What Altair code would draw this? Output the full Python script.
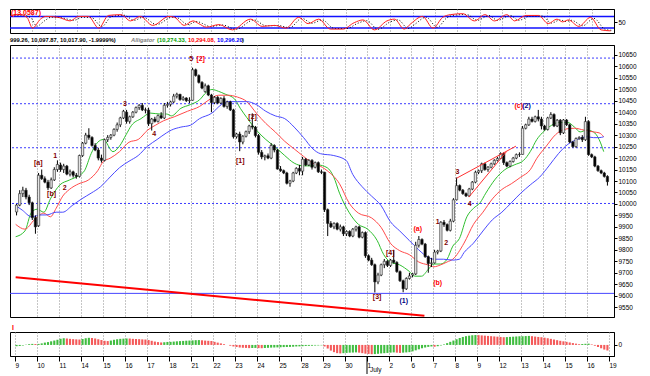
import json
import altair as alt
import pandas as pd

# ---------------- data ----------------
DAY_LABELS = ["9", "10", "11", "14", "15", "16", "17", "18", "21", "22", "23", "24", "25",
              "28", "29", "30", "1", "2", "6", "7", "8", "9", "12", "13", "14", "15", "16", "19"]

# hourly candles, 7 per trading day (June 9 .. July 16)
OPEN = [
    [9965, 9995, 10045, 10060, 10030, 10005, 9940],
    [9905, 10125, 10110, 10095, 10070, 10105, 10150],
    [10170, 10150, 10165, 10130, 10140, 10125, 10120],
    [10211, 10265, 10300, 10290, 10255, 10235, 10200],
    [10190, 10280, 10290, 10300, 10325, 10345, 10375],
    [10400, 10360, 10380, 10400, 10420, 10430, 10410],
    [10409, 10350, 10370, 10360, 10385, 10375, 10430],
    [10434, 10445, 10470, 10478, 10455, 10462, 10450],
    [10452, 10585, 10560, 10530, 10490, 10515, 10475],
    [10442, 10465, 10440, 10460, 10425, 10445, 10410],
    [10293, 10305, 10270, 10295, 10315, 10340, 10335],
    [10298, 10225, 10205, 10210, 10200, 10255, 10235],
    [10152, 10145, 10135, 10090, 10100, 10135, 10155],
    [10143, 10195, 10170, 10190, 10160, 10180, 10140],
    [10138, 9975, 9915, 9900, 9915, 9890, 9900],
    [9870, 9880, 9860, 9890, 9900, 9855, 9875],
    [9774, 9755, 9735, 9660, 9690, 9735, 9750],
    [9732, 9755, 9745, 9705, 9665, 9630, 9675],
    [9690, 9695, 9820, 9845, 9825, 9770, 9740],
    [9743, 9790, 9795, 9920, 9910, 9885, 9925],
    [10018, 10080, 10060, 10045, 10035, 10065, 10095],
    [10138, 10145, 10175, 10150, 10160, 10175, 10190],
    [10198, 10220, 10180, 10165, 10185, 10200, 10215],
    [10216, 10330, 10345, 10370, 10360, 10380, 10370],
    [10340, 10325, 10375, 10390, 10340, 10365, 10310],
    [10366, 10345, 10270, 10250, 10285, 10290, 10280],
    [10359, 10215, 10205, 10165, 10145, 10135, 10120],
]
HIGH = [
    [10000, 10060, 10075, 10070, 10040, 10010, 9950],
    [10135, 10150, 10120, 10105, 10115, 10160, 10190],
    [10180, 10175, 10170, 10150, 10145, 10135, 10215],
    [10270, 10310, 10330, 10295, 10265, 10245, 10215],
    [10285, 10300, 10305, 10330, 10355, 10380, 10410],
    [10410, 10385, 10405, 10425, 10435, 10440, 10420],
    [10420, 10375, 10380, 10390, 10400, 10440, 10445],
    [10450, 10480, 10485, 10480, 10470, 10465, 10465],
    [10594, 10590, 10565, 10535, 10525, 10520, 10480],
    [10470, 10470, 10465, 10470, 10450, 10450, 10415],
    [10310, 10315, 10300, 10320, 10345, 10395, 10340],
    [10305, 10235, 10215, 10220, 10265, 10260, 10240],
    [10165, 10150, 10140, 10105, 10140, 10160, 10170],
    [10205, 10200, 10195, 10195, 10185, 10185, 10150],
    [10140, 9980, 9925, 9920, 9920, 9910, 9905],
    [9885, 9885, 9895, 9905, 9905, 9880, 9880],
    [9780, 9765, 9740, 9700, 9740, 9760, 9755],
    [9760, 9800, 9750, 9710, 9670, 9680, 9700],
    [9700, 9835, 9860, 9850, 9830, 9775, 9765],
    [9800, 9800, 9925, 9930, 9915, 9935, 10025],
    [10115, 10085, 10065, 10050, 10070, 10100, 10145],
    [10150, 10180, 10180, 10165, 10180, 10195, 10205],
    [10225, 10225, 10185, 10190, 10205, 10220, 10225],
    [10340, 10350, 10380, 10380, 10385, 10410, 10380],
    [10345, 10380, 10400, 10395, 10370, 10370, 10370],
    [10370, 10350, 10275, 10290, 10295, 10300, 10380],
    [10365, 10220, 10210, 10170, 10150, 10140, 10125],
]
LOW = [
    [9950, 9990, 10030, 10020, 9995, 9930, 9870],
    [9900, 10105, 10090, 10060, 10065, 10100, 10140],
    [10140, 10135, 10125, 10120, 10115, 10110, 10115],
    [10205, 10260, 10280, 10250, 10230, 10190, 10180],
    [10185, 10270, 10280, 10295, 10315, 10335, 10370],
    [10350, 10350, 10375, 10395, 10410, 10405, 10395],
    [10340, 10320, 10355, 10355, 10370, 10370, 10420],
    [10425, 10440, 10460, 10450, 10450, 10445, 10440],
    [10450, 10555, 10525, 10500, 10485, 10470, 10400],
    [10435, 10435, 10435, 10420, 10415, 10405, 10285],
    [10285, 10230, 10260, 10290, 10305, 10325, 10290],
    [10215, 10195, 10190, 10195, 10195, 10225, 10150],
    [10140, 10130, 10085, 10075, 10095, 10130, 10125],
    [10125, 10165, 10165, 10150, 10155, 10135, 10130],
    [9965, 9860, 9895, 9890, 9885, 9880, 9860],
    [9860, 9855, 9855, 9880, 9850, 9850, 9765],
    [9750, 9730, 9614, 9650, 9685, 9720, 9725],
    [9725, 9740, 9700, 9660, 9615, 9625, 9670],
    [9680, 9690, 9810, 9820, 9765, 9700, 9725],
    [9740, 9780, 9790, 9900, 9880, 9880, 9920],
    [10015, 10055, 10040, 10030, 10030, 10060, 10090],
    [10130, 10135, 10145, 10140, 10155, 10170, 10185],
    [10195, 10170, 10160, 10160, 10180, 10195, 10205],
    [10215, 10325, 10340, 10355, 10355, 10360, 10325],
    [10320, 10320, 10370, 10335, 10335, 10300, 10305],
    [10340, 10265, 10245, 10245, 10280, 10270, 10275],
    [10210, 10200, 10160, 10140, 10130, 10115, 10080],
]
CLOSE = [
    [9995, 10045, 10060, 10030, 10005, 9940, 9900],
    [10125, 10110, 10095, 10070, 10105, 10150, 10172],
    [10150, 10165, 10130, 10140, 10125, 10120, 10211],
    [10265, 10300, 10290, 10255, 10235, 10200, 10190],
    [10280, 10290, 10300, 10325, 10345, 10375, 10404],
    [10360, 10380, 10400, 10420, 10430, 10410, 10409],
    [10350, 10370, 10360, 10385, 10375, 10430, 10434],
    [10445, 10470, 10478, 10455, 10462, 10450, 10452],
    [10585, 10560, 10530, 10505, 10515, 10475, 10442],
    [10465, 10440, 10460, 10425, 10445, 10410, 10293],
    [10305, 10270, 10295, 10315, 10340, 10335, 10298],
    [10225, 10205, 10210, 10200, 10255, 10235, 10152],
    [10145, 10135, 10090, 10100, 10135, 10155, 10143],
    [10195, 10170, 10190, 10160, 10180, 10140, 10138],
    [9975, 9915, 9900, 9915, 9890, 9900, 9870],
    [9880, 9860, 9890, 9900, 9855, 9875, 9774],
    [9755, 9735, 9660, 9690, 9735, 9750, 9732],
    [9755, 9745, 9705, 9665, 9630, 9675, 9686],
    [9695, 9820, 9845, 9825, 9770, 9740, 9743],
    [9790, 9795, 9920, 9910, 9885, 9925, 10018],
    [10080, 10060, 10045, 10035, 10065, 10095, 10138],
    [10145, 10175, 10150, 10160, 10175, 10190, 10198],
    [10220, 10180, 10165, 10185, 10200, 10215, 10216],
    [10330, 10345, 10370, 10360, 10380, 10370, 10340],
    [10325, 10375, 10390, 10340, 10365, 10310, 10366],
    [10345, 10270, 10250, 10285, 10290, 10280, 10359],
    [10215, 10205, 10165, 10145, 10135, 10120, 10097],
]
# lower histogram oscillator, one value per candle
HIST = [
    [-25, -20, -10, 5, 15, 20, 18],
    [20, 30, 45, 55, 70, 85, 100],
    [120, 130, 125, 118, 112, 108, 105],
    [115, 130, 138, 135, 125, 110, 95],
    [80, 75, 85, 100, 110, 118, 122],
    [125, 124, 118, 115, 112, 108, 105],
    [95, 80, 65, 55, 48, 52, 58],
    [60, 65, 70, 74, 78, 82, 85],
    [88, 92, 94, 90, 84, 80, 76],
    [60, 45, 30, 15, 0, -15, -30],
    [-40, -50, -55, -58, -62, -60, -58],
    [-62, -64, -60, -56, -52, -50, -48],
    [-45, -42, -40, -38, -35, -30, -28],
    [-25, -20, -18, -15, -12, -10, -8],
    [-30, -70, -110, -140, -160, -165, -160],
    [-155, -150, -148, -145, -150, -160, -170],
    [-175, -180, -178, -172, -165, -160, -155],
    [-150, -145, -150, -155, -150, -145, -140],
    [-125, -105, -85, -65, -50, -38, -30],
    [-35, -25, -10, 10, 35, 60, 85],
    [110, 135, 155, 170, 180, 188, 192],
    [190, 185, 180, 175, 170, 165, 160],
    [155, 150, 152, 156, 160, 164, 168],
    [170, 172, 175, 170, 162, 155, 150],
    [140, 130, 118, 105, 92, 80, 70],
    [60, 48, 36, 25, 15, 18, 22],
    [25, 10, -15, -40, -65, -90, -108],
]

# Alligator lines (time in trading days, price)
GREEN_T = [0.03, 0.45, 0.75, 1.01, 1.31, 1.61, 2.04, 2.47, 2.90, 3.16, 3.46, 3.76, 4.02, 4.45, 4.75, 5.05,
           5.30, 5.73, 6.16, 6.59, 6.89, 7.11, 7.54, 7.97, 8.39, 8.70, 8.95, 9.25, 9.55, 9.98, 10.24, 10.54,
           10.97, 11.40, 11.83, 12.26, 12.69, 13.12, 13.54, 13.76, 14.19, 14.49, 14.75, 15.18, 15.61, 16.03,
           16.46, 16.76, 17.06, 17.49, 17.92, 18.18, 18.48, 18.78, 19.04, 19.34, 19.64, 19.90, 20.20, 20.54,
           20.84, 21.14, 21.40, 21.83, 22.26, 22.69, 23.12, 23.42, 23.72, 23.97, 24.27, 24.70, 25.13, 25.43,
           25.69, 25.99, 26.29, 26.55, 26.76]
GREEN_P = [9857, 9882, 9964, 9977, 9964, 10022, 10083, 10104, 10124, 10145, 10219, 10269, 10281, 10228, 10252,
           10302, 10343, 10372, 10396, 10392, 10392, 10384, 10417, 10433, 10454, 10487, 10499, 10491, 10479,
           10458, 10417, 10376, 10322, 10281, 10248, 10211, 10178, 10166, 10166, 10170, 10158, 10117, 10047,
           9964, 9911, 9890, 9841, 9779, 9747, 9734, 9706, 9685, 9685, 9714, 9738, 9738, 9759, 9816, 9849, 9944,
           9981, 10005, 10047, 10108, 10149, 10170, 10190, 10228, 10281, 10310, 10335, 10355, 10355, 10335,
           10314, 10322, 10314, 10281, 10228]
RED_T = [0.03, 0.45, 0.88, 1.31, 1.61, 1.87, 2.17, 2.47, 2.90, 3.33, 3.76, 4.02, 4.32, 4.75, 5.18, 5.60, 6.03,
         6.38, 6.76, 7.24, 7.84, 8.39, 8.82, 9.25, 9.68, 10.11, 10.54, 10.97, 11.40, 11.83, 12.26, 12.69, 13.12,
         13.54, 13.76, 14.19, 14.75, 15.18, 15.61, 16.21, 16.64, 17.06, 17.49, 17.92, 18.35, 18.78, 19.04, 19.34,
         19.64, 19.90, 20.41, 20.84, 21.27, 21.70, 22.13, 22.56, 22.99, 23.42, 23.72, 24.15, 24.57, 25.00, 25.43,
         25.86, 26.29, 26.55, 26.76]
RED_P = [9911, 9890, 9931, 9960, 9944, 9981, 10034, 10063, 10088, 10104, 10145, 10186, 10199, 10228, 10269,
         10281, 10322, 10343, 10363, 10380, 10404, 10425, 10454, 10474, 10474, 10466, 10446, 10396, 10351, 10314,
         10273, 10240, 10207, 10178, 10170, 10145, 10088, 10005, 9960, 9939, 9898, 9829, 9796, 9779, 9747, 9734,
         9726, 9734, 9747, 9759, 9829, 9911, 9964, 10022, 10063, 10088, 10117, 10149, 10199, 10252, 10302, 10326,
         10330, 10322, 10314, 10310, 10293]
BLUE_T = [0.03, 0.33, 0.75, 1.18, 1.44, 1.87, 2.17, 2.60, 3.03, 3.46, 3.89, 4.32, 4.75, 5.18, 5.60, 6.03, 6.46,
          6.89, 7.11, 7.54, 7.97, 8.39, 8.95, 9.38, 9.68, 10.11, 10.54, 10.97, 11.40, 11.83, 12.26, 12.69, 13.12,
          13.54, 13.89, 14.49, 15.05, 15.35, 15.78, 16.21, 16.64, 17.06, 17.49, 17.92, 18.35, 18.78, 19.04, 19.47,
          19.90, 20.20, 20.41, 20.84, 21.27, 21.70, 22.13, 22.56, 22.99, 23.42, 23.85, 24.27, 24.70, 25.13, 25.56,
          25.99, 26.29, 26.55, 26.76]
BLUE_P = [9993, 9973, 9944, 9952, 9952, 9964, 9964, 9993, 10022, 10047, 10075, 10117, 10158, 10186, 10211,
          10252, 10281, 10310, 10322, 10335, 10343, 10372, 10396, 10433, 10446, 10446, 10446, 10433, 10404, 10384,
          10372, 10335, 10289, 10240, 10219, 10211, 10190, 10129, 10075, 10034, 9993, 9923, 9882, 9841, 9800,
          9767, 9759, 9759, 9755, 9759, 9788, 9829, 9882, 9931, 9964, 10005, 10047, 10083, 10117, 10166, 10219,
          10260, 10281, 10293, 10289, 10289, 10293]

# Oscillator panel (top)
OSC_T = [0.03, 0.45, 0.76, 1.01, 1.36, 1.61, 2.17, 2.69, 3.07, 3.5, 3.97, 4.4, 4.96, 5.39, 5.82, 6.38, 7.11,
         7.36, 7.79, 8.18, 8.44, 8.78, 9.34, 9.94, 10.75, 11.27, 11.83, 12.34, 12.9, 13.33, 13.8, 14.32, 14.88,
         15.39, 15.78, 16.29, 16.85, 17.19, 17.62, 17.92, 18.44, 18.91, 19.34, 19.68, 20.24, 20.76, 21.23, 21.66,
         22.21, 22.56, 23.07, 23.63, 24.06, 24.45, 24.7, 24.96, 25.43, 25.95, 26.42, 26.85]
OSC_V = [85, 89, 75, 20, 66, 80, 75, 57, 80, 80, 20, 85, 89, 57, 80, 34, 80, 75, 34, 57, 43, 25, 38, 11, 66,
         29, 34, 20, 75, 43, 66, 15, 15, 48, 62, 11, 57, 66, 15, 43, 80, 20, 75, 89, 94, 57, 89, 57, 89, 57, 85,
         85, 43, 66, 52, 62, 29, 75, 11, 6]
SIG_T = [0.2, 0.6, 0.95, 1.2, 1.55, 1.85, 2.35, 2.85, 3.25, 3.65, 4.1, 4.55, 5.1, 5.55, 5.95, 6.55, 7.25, 7.5,
         7.95, 8.35, 8.6, 8.95, 9.5, 10.1, 10.9, 11.45, 12.0, 12.5, 13.05, 13.5, 13.95, 14.5, 15.05, 15.55,
         15.95, 16.45, 17.0, 17.35, 17.8, 18.1, 18.6, 19.1, 19.5, 19.85, 20.4, 20.9, 21.4, 21.8, 22.35, 22.75,
         23.25, 23.8, 24.2, 24.6, 24.85, 25.1, 25.6, 26.1, 26.6, 26.95]
SIG_V = [84, 86, 70, 30, 58, 76, 72, 60, 76, 74, 28, 80, 86, 60, 76, 38, 76, 72, 38, 54, 44, 28, 36, 14, 62,
         32, 33, 22, 70, 45, 62, 18, 18, 45, 58, 14, 52, 62, 18, 40, 76, 24, 70, 86, 90, 60, 85, 60, 85, 60, 82,
         82, 46, 62, 54, 60, 32, 70, 14, 8]
OSC_BANDS = [20, 80]

# Horizontal levels and trend lines
FIB_LEVELS = [10636, 10437, 10245, 10002]
SUPPORT = [9610]
TREND_GROUP = ["long", "long", "upper", "upper", "lower", "lower"]
TREND_T = [0.03, 18.61, 20.07, 22.77, 20.63, 22.34]
TREND_P = [9680, 9512, 10112, 10252, 10030, 10228]

# Wave labels
LBL_TXT = ["[a]", "1", "[b]", "2", "3", "4", "5", "[2]", "[2]", "[1]", "[3]", "[4]", "(1)", "(a)", "(b)",
           "1", "2", "3", "4", "(c)", "(2)"]
LBL_T = [1.06, 1.83, 1.66, 2.26, 5.0, 6.33, 8.01, 8.44, 10.8, 10.24, 16.46, 17.06, 17.67, 18.31, 19.21,
         19.21, 19.6, 20.11, 20.67, 22.9, 23.25]
LBL_P = [10178, 10211, 10042, 10071, 10437, 10306, 10631, 10631, 10380, 10186, 9594, 9788, 9578, 9890, 9655,
         9923, 9829, 10141, 10001, 10429, 10429]
LBL_COL = ["#800000"] * 7 + ["#ff0000"] + ["#800000"] * 4 + ["#000080", "#ff0000", "#ff0000"] + \
          ["#800000"] * 4 + ["#ff0000", "#000080"]

# ---------------- build tables ----------------
rows = []
for d in range(len(OPEN)):
    for k in range(7):
        rows.append({"t": d + (k + 0.5) / 7, "o": OPEN[d][k], "h": HIGH[d][k],
                     "l": LOW[d][k], "c": CLOSE[d][k], "hv": HIST[d][k]})
bars = pd.DataFrame(rows)
bars["z"] = 0
bars["hcol"] = ["#40bd40" if i == 0 or v >= bars["hv"].iloc[i - 1] else "#f45a5a"
                for i, v in enumerate(bars["hv"])]

allig = pd.concat([
    pd.DataFrame({"t": GREEN_T, "p": GREEN_P, "s": "lips"}),
    pd.DataFrame({"t": RED_T, "p": RED_P, "s": "teeth"}),
    pd.DataFrame({"t": BLUE_T, "p": BLUE_P, "s": "jaw"}),
])
trend = pd.DataFrame({"g": TREND_GROUP, "t": TREND_T, "p": TREND_P})
labels = pd.DataFrame({"t": LBL_T, "p": LBL_P, "txt": LBL_TXT, "col": LBL_COL})
osc = pd.DataFrame({"t": OSC_T, "v": OSC_V})
sig = pd.DataFrame({"t": SIG_T, "v": SIG_V})

FONT = "Liberation Sans"
W = 604
H_OSC, H_MAIN, H_HIST = 24, 272, 24
XS = alt.Scale(domain=[0, 27], nice=False, zero=False)
YS_MAIN = alt.Scale(domain=[9507, 10693], nice=False, zero=False)
YS_OSC = alt.Scale(domain=[-5, 118], nice=False, zero=False)
YS_HIST = alt.Scale(domain=[-215, 251], nice=False, zero=False)

grid_x = alt.Axis(values=list(range(1, 27)), grid=True, gridDash=[1, 2], gridColor="#8c8c8c",
                  labels=False, ticks=False, domain=False, title=None)


def XX(field="t"):
    return alt.X(f"{field}:Q", scale=XS, axis=grid_x)


main_yaxis = alt.Axis(orient="right", values=list(range(9550, 10651, 50)), format="d", labelFontSize=6.5,
                      labelFont=FONT, tickSize=3, grid=False, title=None, labelPadding=1)


def YM(field):
    return alt.Y(f"{field}:Q", scale=YS_MAIN, axis=main_yaxis)


fib = alt.Chart(pd.DataFrame({"p": FIB_LEVELS})).mark_rule(
    color="#3c3cff", strokeDash=[2, 2], strokeWidth=1).encode(y=YM("p"))
sup = alt.Chart(pd.DataFrame({"p": SUPPORT})).mark_rule(color="#4646ff", strokeWidth=1).encode(y=YM("p"))

lines = alt.Chart(allig).mark_line(strokeWidth=1, interpolate="monotone").encode(
    x=XX(), y=YM("p"), detail="s:N",
    color=alt.Color("s:N", scale=alt.Scale(domain=["lips", "teeth", "jaw"],
                                           range=["#2fbf2f", "#ff4a4a", "#4a4aff"]), legend=None))

wick = alt.Chart(bars).mark_rule(color="black", strokeWidth=1).encode(x=XX(), y=YM("l"), y2="h:Q")
body = alt.Chart(bars).mark_bar(size=2.3, stroke="#202020", strokeWidth=0.6).encode(
    x=XX(), y=YM("o"), y2="c:Q",
    fill=alt.condition("datum.c >= datum.o", alt.value("#e4e4e4"), alt.value("black")))

trend_long = alt.Chart(trend[trend.g == "long"]).mark_line(color="#ff0000", strokeWidth=2).encode(
    x=XX(), y=YM("p"))
trend_ch = alt.Chart(trend[trend.g != "long"]).mark_line(color="#ff3030", strokeWidth=1).encode(
    x=XX(), y=YM("p"), detail="g:N")

lbl = alt.Chart(labels).mark_text(font=FONT, fontSize=7, fontWeight="bold").encode(
    x=XX(), y=YM("p"), text="txt:N", color=alt.Color("col:N", scale=None))

hdr_parts = [
    ("999.26, 10,097.87, 10,017.90, -1.9999%)", "black", 0, "normal"),
    ("Alligator", "#808080", 121, "italic"),
    ("(10,274.33,", "#00a000", 147, "normal"),
    ("10,294.08,", "#ff0000", 178, "normal"),
    ("10,296.20", "#0000ff", 207, "normal"),
    (")", "black", 232, "normal"),
]
hdr_layers = [
    alt.Chart(pd.DataFrame({"txt": [txt]})).mark_text(
        align="left", baseline="bottom", font=FONT, fontSize=5.8, fontWeight="bold",
        fontStyle=style, color=col).encode(x=alt.value(px), y=alt.value(-2), text="txt:N")
    for txt, col, px, style in hdr_parts
]

main = alt.layer(fib, sup, lines, wick, body, trend_long, trend_ch, lbl, *hdr_layers).properties(
    width=W, height=H_MAIN)

# ---------------- oscillator panel ----------------
osc_yaxis = alt.Axis(orient="right", values=[50], labelFontSize=6.5, labelFont=FONT, tickSize=3,
                     grid=False, title=None, labelPadding=1)


def YO(field):
    return alt.Y(f"{field}:Q", scale=YS_OSC, axis=osc_yaxis)


bands = alt.Chart(pd.DataFrame({"v": OSC_BANDS})).mark_rule(color="#1010ff", strokeWidth=1.5).encode(
    y=YO("v"))
sig_line = alt.Chart(sig).mark_line(color="black", strokeDash=[1, 2], strokeWidth=1,
                                    interpolate="monotone").encode(x=XX(), y=YO("v"))
osc_line = alt.Chart(osc).mark_line(color="#ff2020", strokeWidth=1, interpolate="monotone").encode(
    x=XX(), y=YO("v"))
osc_title = alt.Chart(pd.DataFrame({"txt": ["(13.0587)"]})).mark_text(
    align="left", baseline="top", font=FONT, fontSize=7, fontWeight="bold", color="#ff0000").encode(
    x=alt.value(1), y=alt.value(0), text="txt:N")
oscp = alt.layer(bands, sig_line, osc_line, osc_title).properties(width=W, height=H_OSC)

# ---------------- histogram panel ----------------
label_expr = json.dumps(DAY_LABELS) + "[datum.value]"
hist_xaxis = alt.Axis(values=list(range(0, 28)), labelExpr=label_expr, labelAlign="left", labelFontSize=6.5,
                      labelFont=FONT, tickSize=5, labelPadding=1, grid=True, gridDash=[1, 2],
                      gridColor="#8c8c8c", title=None, labelOverlap=False)
hist_yaxis = alt.Axis(orient="right", values=[0], labelFontSize=6.5, labelFont=FONT, tickSize=3,
                      grid=False, title=None, labelPadding=1)
hx = alt.X("t:Q", scale=XS, axis=hist_xaxis)
hbars = alt.Chart(bars).mark_bar(size=2.1).encode(
    x=hx, y=alt.Y("hv:Q", scale=YS_HIST, axis=hist_yaxis), y2="z:Q",
    color=alt.Color("hcol:N", scale=None))
month = pd.DataFrame({"t": [16], "txt": ["July"]})
month_rule = alt.Chart(month).mark_rule(color="black", strokeWidth=1).encode(
    x=hx, y=alt.value(H_HIST), y2=alt.value(H_HIST + 18))
month_txt = alt.Chart(month).mark_text(align="left", baseline="top", dx=3, font=FONT, fontSize=6.5).encode(
    x=hx, y=alt.value(H_HIST + 11), text="txt:N")
hist_title = alt.Chart(pd.DataFrame({"txt": ["I"]})).mark_text(
    align="left", baseline="bottom", font=FONT, fontSize=7, fontWeight="bold", color="#ff0000").encode(
    x=alt.value(2), y=alt.value(-1), text="txt:N")
histp = alt.layer(hbars, month_rule, month_txt, hist_title).properties(width=W, height=H_HIST)

chart = alt.vconcat(oscp, main, histp, spacing=2).properties(
    padding={"left": 0, "top": 0, "right": 4, "bottom": 0}, background="white"
).configure_view(stroke="black", strokeWidth=1).configure_axis(
    labelColor="black", tickColor="black", domainColor="black")

chart.save("out.html", embed_options={"renderer": "svg", "actions": False})
